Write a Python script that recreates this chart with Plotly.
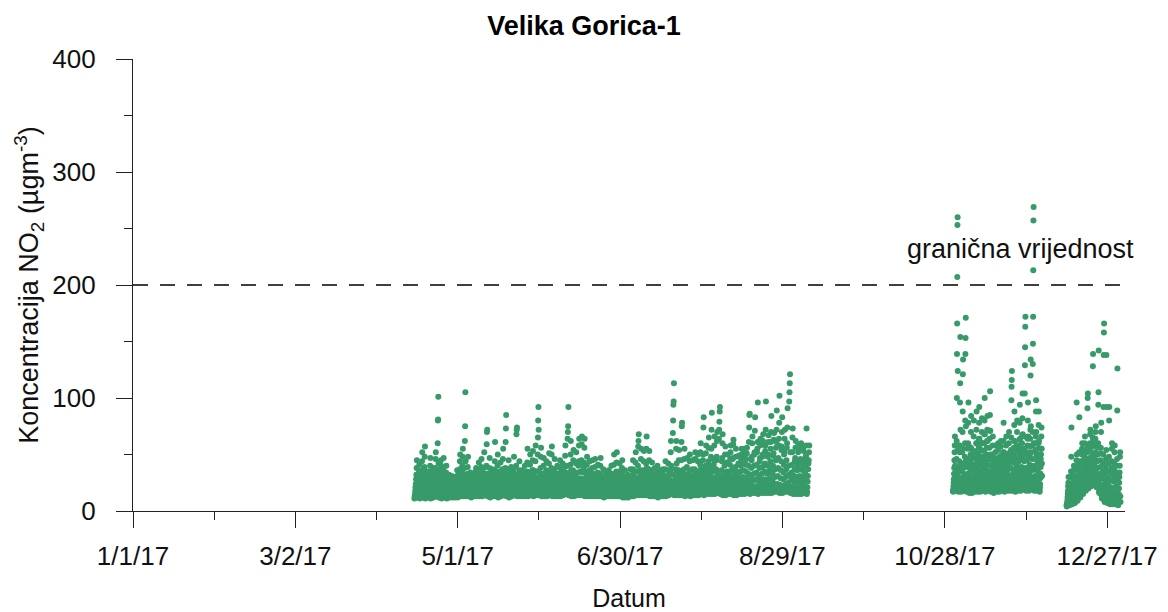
import pandas as pd
import plotly.graph_objects as go

# NO2 readings (ugm-3), one list per day
p1_start = "2017-04-15"
p1_days = [
    [11, 13, 15, 18, 21, 24, 28, 32, 38, 45], [12, 13, 16, 19, 22, 26, 30, 35, 41, 29],
    [11, 14, 16, 20, 23, 27, 31, 36, 44, 52], [12, 14, 17, 21, 25, 29, 34, 39, 48, 57],
    [11, 12, 15, 17, 20, 23, 27, 31, 35, 26], [12, 14, 16, 19, 23, 27, 31, 35, 40, 47],
    [11, 13, 15, 18, 21, 25, 29, 33, 38, 30], [12, 14, 17, 20, 24, 28, 33, 38, 46, 52],
    [13, 15, 18, 22, 26, 31, 36, 60, 80, 81, 101, 42], [12, 13, 16, 19, 23, 27, 32, 37, 45, 40],
    [11, 13, 15, 18, 22, 26, 31, 38, 47, 34], [12, 14, 16, 19, 22, 26, 30, 34, 40, 28],
    [11, 12, 14, 17, 20, 23, 26, 29, 32, 24], [12, 13, 15, 17, 20, 23, 26, 28, 31, 22],
    [12, 13, 14, 16, 19, 22, 25, 27, 30, 21], [12, 14, 16, 18, 21, 24, 28, 31, 36, 26],
    [12, 14, 16, 19, 23, 27, 32, 37, 44, 50], [13, 14, 17, 20, 24, 29, 34, 40, 48, 55],
    [13, 15, 18, 22, 27, 32, 38, 62, 75, 105, 44], [13, 14, 17, 20, 24, 28, 33, 39, 48, 31],
    [13, 14, 16, 19, 22, 25, 29, 34, 27, 21], [12, 14, 16, 18, 21, 24, 27, 31, 25, 20],
    [13, 15, 17, 20, 23, 27, 31, 35, 38, 28], [13, 14, 16, 19, 23, 27, 32, 36, 43, 29],
    [13, 15, 17, 21, 25, 29, 34, 39, 46, 32], [13, 14, 17, 20, 24, 28, 33, 38, 52, 30],
    [14, 16, 19, 23, 28, 33, 40, 59, 70, 72], [13, 15, 17, 20, 24, 28, 33, 38, 47, 31],
    [12, 14, 16, 19, 22, 26, 30, 34, 37, 27], [13, 15, 18, 21, 25, 30, 36, 44, 61, 35],
    [13, 15, 17, 21, 25, 29, 34, 40, 50, 33], [12, 14, 16, 19, 23, 27, 31, 35, 43, 29],
    [13, 15, 18, 22, 26, 31, 37, 46, 55, 36], [14, 16, 19, 23, 28, 33, 38, 61, 73, 85],
    [13, 15, 17, 20, 24, 28, 32, 37, 45, 31], [12, 14, 16, 19, 22, 26, 30, 34, 39, 27],
    [13, 15, 17, 21, 25, 29, 34, 38, 48, 32], [14, 16, 19, 23, 27, 32, 40, 68, 72, 74],
    [13, 15, 17, 20, 24, 28, 32, 36, 44, 30], [13, 14, 16, 19, 22, 26, 30, 34, 36, 26],
    [13, 15, 17, 20, 23, 27, 31, 35, 40, 28], [13, 15, 18, 21, 25, 30, 35, 43, 55, 34],
    [13, 15, 17, 21, 25, 29, 34, 41, 50, 32], [14, 16, 18, 22, 26, 31, 36, 45, 53, 36],
    [13, 15, 18, 22, 26, 30, 35, 44, 58, 35], [14, 16, 20, 24, 29, 35, 50, 65, 80, 92, 72],
    [14, 16, 19, 23, 27, 32, 38, 48, 56, 33], [13, 15, 18, 21, 25, 29, 33, 40, 47, 28],
    [13, 15, 17, 20, 24, 28, 32, 36, 44, 26], [13, 15, 18, 21, 25, 30, 34, 42, 51, 30],
    [14, 16, 19, 23, 27, 32, 38, 50, 57, 35], [13, 15, 17, 20, 24, 28, 33, 37, 46, 31],
    [13, 14, 16, 19, 23, 27, 31, 33, 40, 28], [13, 15, 17, 21, 25, 29, 33, 38, 45, 32],
    [13, 15, 17, 20, 24, 28, 32, 35, 42, 29], [14, 16, 19, 23, 28, 33, 39, 49, 58, 34],
    [15, 17, 20, 25, 30, 40, 64, 70, 75, 92], [14, 16, 19, 23, 28, 33, 41, 50, 62, 36],
    [13, 15, 18, 22, 26, 31, 36, 45, 54, 30], [13, 15, 18, 21, 25, 30, 34, 42, 52, 29],
    [14, 16, 19, 23, 28, 34, 40, 44, 58, 64], [14, 16, 19, 24, 29, 35, 42, 45, 59, 66],
    [14, 16, 19, 23, 28, 34, 38, 43, 56, 64], [13, 15, 18, 22, 26, 30, 34, 41, 48, 29],
    [13, 15, 17, 20, 24, 28, 32, 36, 44, 26], [13, 15, 17, 21, 25, 29, 33, 38, 45, 27],
    [13, 15, 18, 21, 25, 29, 33, 39, 46, 28], [13, 15, 17, 20, 23, 27, 31, 34, 41, 25],
    [13, 15, 17, 21, 25, 29, 33, 40, 47, 28], [13, 14, 16, 19, 22, 25, 29, 31, 37, 24],
    [12, 14, 15, 18, 21, 24, 27, 28, 34, 22], [13, 14, 16, 19, 22, 25, 28, 30, 36, 23],
    [13, 14, 16, 19, 22, 26, 29, 33, 40, 25], [13, 15, 17, 21, 25, 29, 33, 41, 50, 28],
    [13, 15, 18, 21, 25, 30, 35, 43, 52, 29], [13, 15, 17, 20, 24, 28, 32, 35, 42, 27],
    [13, 15, 17, 21, 25, 29, 33, 38, 45, 28], [12, 14, 16, 19, 22, 25, 28, 30, 36, 23],
    [12, 13, 15, 18, 21, 24, 27, 29, 32, 22], [12, 14, 16, 19, 22, 25, 28, 30, 37, 23],
    [13, 15, 17, 20, 24, 28, 32, 37, 45, 27], [13, 15, 18, 22, 26, 30, 35, 43, 52, 29],
    [14, 16, 19, 24, 29, 35, 40, 57, 62, 68], [14, 16, 18, 22, 26, 31, 36, 46, 55, 33],
    [14, 16, 18, 22, 26, 31, 36, 44, 53, 31], [14, 16, 19, 23, 28, 34, 42, 55, 66, 38],
    [14, 16, 18, 22, 27, 32, 37, 45, 53, 33], [13, 15, 17, 20, 24, 28, 32, 36, 43, 27],
    [13, 14, 16, 19, 22, 26, 30, 32, 38, 25], [13, 15, 17, 20, 23, 27, 30, 34, 40, 26],
    [12, 14, 16, 19, 22, 25, 28, 30, 36, 23], [13, 14, 16, 19, 22, 26, 29, 33, 37, 24],
    [13, 15, 17, 20, 24, 28, 31, 37, 44, 26], [13, 15, 17, 20, 24, 28, 31, 36, 42, 26],
    [14, 16, 18, 22, 27, 32, 36, 52, 62, 40], [15, 17, 21, 26, 32, 69, 80, 94, 97, 113],
    [14, 16, 19, 23, 28, 33, 37, 55, 62, 42], [14, 16, 18, 22, 26, 31, 36, 45, 54, 31],
    [14, 16, 19, 24, 29, 35, 45, 61, 75, 78], [14, 16, 18, 22, 27, 32, 37, 46, 55, 32],
    [13, 15, 17, 21, 25, 29, 32, 39, 47, 27], [14, 16, 18, 22, 26, 30, 35, 44, 50, 30],
    [13, 15, 17, 21, 25, 29, 31, 37, 45, 26], [14, 16, 18, 22, 27, 32, 37, 46, 52, 33],
    [14, 16, 18, 22, 26, 31, 35, 44, 50, 31], [14, 16, 19, 23, 28, 34, 41, 52, 60, 37],
    [15, 17, 20, 25, 30, 36, 45, 50, 74, 83], [14, 16, 19, 23, 28, 33, 40, 51, 58, 36],
    [15, 17, 20, 24, 29, 35, 44, 56, 65, 40], [15, 17, 21, 26, 31, 38, 48, 55, 72, 87],
    [15, 17, 20, 24, 29, 35, 41, 45, 58, 66], [15, 17, 20, 25, 30, 37, 45, 48, 62, 70],
    [16, 18, 22, 27, 33, 64, 72, 79, 88, 92], [15, 17, 20, 25, 30, 36, 44, 47, 60, 68],
    [14, 16, 19, 23, 28, 34, 40, 43, 50, 57], [14, 16, 19, 23, 27, 31, 35, 43, 50, 29],
    [15, 17, 20, 24, 29, 35, 41, 46, 52, 58], [15, 17, 21, 26, 31, 37, 46, 47, 59, 63],
    [14, 16, 19, 23, 28, 33, 39, 48, 55, 35], [14, 16, 19, 23, 27, 31, 34, 42, 49, 30],
    [15, 17, 20, 24, 29, 35, 40, 46, 50, 55], [15, 17, 20, 25, 30, 36, 42, 48, 52, 55],
    [15, 17, 20, 24, 29, 35, 41, 46, 51, 56], [16, 18, 22, 27, 33, 40, 61, 74, 85, 86],
    [15, 17, 21, 26, 31, 38, 45, 48, 60, 66], [16, 18, 22, 27, 33, 40, 50, 52, 71, 83],
    [16, 18, 22, 28, 34, 41, 52, 55, 61, 96], [15, 17, 21, 26, 31, 38, 44, 47, 58, 64],
    [16, 18, 22, 27, 33, 39, 48, 50, 62, 68], [16, 18, 23, 28, 35, 42, 53, 58, 72, 97],
    [16, 18, 22, 27, 33, 40, 48, 50, 61, 67], [16, 18, 23, 29, 36, 44, 55, 61, 70, 84],
    [16, 18, 22, 27, 33, 40, 49, 51, 63, 69], [17, 19, 24, 30, 37, 45, 56, 61, 72, 89],
    [17, 19, 24, 31, 38, 47, 58, 64, 78, 102], [16, 18, 23, 29, 36, 44, 54, 57, 70, 83],
    [16, 18, 22, 28, 34, 41, 50, 52, 64, 72], [17, 19, 24, 30, 37, 45, 56, 60, 74, 91],
    [17, 20, 25, 32, 40, 97, 105, 113, 121, 52], [16, 18, 22, 28, 34, 41, 52, 65, 73, 31],
    [15, 17, 21, 26, 31, 37, 44, 47, 56, 62], [15, 17, 20, 25, 30, 36, 40, 44, 52, 58],
    [15, 17, 21, 26, 31, 37, 43, 46, 55, 60], [15, 17, 20, 25, 30, 36, 41, 44, 53, 57],
    [16, 18, 22, 27, 33, 40, 48, 49, 58, 73], [15, 17, 21, 26, 31, 37, 42, 45, 52, 58],
]

p2_start = "2017-10-31"
p2_days = [
    [18, 17, 19, 22, 25, 28, 33, 38, 45, 52, 58, 66, 40, 30, 23],
    [20, 18, 22, 26, 31, 38, 46, 62, 100, 139, 166, 207, 253, 260, 124, 54, 35, 27],
    [19, 17, 21, 25, 30, 36, 44, 52, 58, 96, 113, 154, 72, 40, 28],
    [18, 17, 20, 24, 29, 35, 42, 52, 70, 88, 121, 134, 55, 38, 26],
    [20, 18, 22, 27, 32, 40, 48, 60, 80, 139, 153, 171, 75, 45, 30],
    [18, 17, 20, 23, 27, 33, 39, 46, 55, 60, 78, 96, 58, 42, 29],
    [18, 16, 19, 22, 26, 31, 37, 44, 50, 56, 70, 84, 55, 40, 28],
    [17, 16, 19, 22, 25, 29, 35, 41, 47, 52, 66, 80, 52, 38, 27],
    [18, 17, 20, 23, 27, 33, 39, 47, 53, 60, 72, 88, 60, 43, 30],
    [19, 17, 21, 24, 29, 36, 42, 50, 57, 64, 78, 92, 64, 46, 32],
    [18, 17, 20, 23, 28, 34, 40, 48, 54, 60, 70, 82, 60, 44, 31],
    [19, 18, 22, 25, 30, 38, 45, 53, 60, 68, 80, 100, 68, 48, 34],
    [19, 17, 21, 24, 29, 36, 42, 50, 56, 62, 72, 84, 62, 45, 32],
    [20, 18, 22, 26, 31, 40, 47, 56, 64, 71, 85, 106, 71, 50, 35],
    [18, 17, 20, 22, 26, 30, 35, 40, 45, 50, 58, 66, 48, 37, 27],
    [17, 16, 19, 21, 24, 28, 32, 37, 42, 46, 52, 58, 44, 34, 25],
    [18, 17, 20, 22, 25, 29, 33, 38, 43, 47, 54, 60, 46, 35, 26],
    [19, 17, 21, 23, 27, 31, 35, 40, 45, 49, 57, 62, 48, 37, 28],
    [19, 18, 21, 24, 28, 33, 38, 43, 48, 52, 62, 78, 52, 40, 30],
    [19, 17, 21, 23, 27, 31, 36, 41, 46, 50, 58, 66, 49, 38, 29],
    [19, 18, 21, 23, 27, 32, 37, 42, 47, 51, 60, 70, 50, 39, 29],
    [20, 18, 22, 26, 31, 38, 46, 54, 65, 98, 110, 116, 124, 48, 32],
    [19, 18, 22, 25, 30, 36, 43, 50, 56, 62, 76, 88, 62, 46, 33],
    [19, 17, 21, 24, 29, 34, 40, 47, 53, 58, 70, 80, 58, 43, 31],
    [20, 18, 22, 25, 30, 37, 44, 51, 57, 63, 78, 94, 64, 47, 34],
    [20, 18, 23, 26, 32, 39, 46, 54, 60, 67, 82, 104, 68, 49, 35],
    [21, 19, 24, 28, 34, 44, 55, 66, 104, 129, 145, 163, 172, 52, 38],
    [20, 18, 22, 26, 31, 38, 45, 52, 58, 64, 80, 96, 66, 48, 35],
    [20, 18, 23, 27, 33, 41, 49, 57, 64, 72, 120, 134, 75, 52, 37],
    [21, 19, 24, 29, 36, 46, 58, 70, 130, 148, 172, 213, 257, 269, 60, 40],
    [20, 18, 22, 26, 31, 39, 46, 54, 60, 66, 88, 98, 70, 50, 36],
    [19, 18, 21, 25, 30, 36, 43, 50, 55, 60, 76, 88, 62, 46, 33],
    [19, 17, 21, 24, 29, 33, 39, 46, 50, 55, 66, 74, 55, 42, 31],
]

p3_start = "2017-12-12"
p3_days = [
    [5, 4, 6, 7, 9, 12, 15, 18, 22, 25, 30, 14, 9, 6],
    [6, 5, 7, 9, 12, 16, 20, 24, 30, 35, 48, 74, 15, 8],
    [7, 6, 8, 10, 13, 17, 21, 26, 31, 36, 40, 28, 12, 9],
    [8, 7, 9, 12, 16, 20, 25, 31, 38, 45, 96, 50, 16, 11],
    [10, 9, 12, 15, 19, 24, 29, 35, 42, 52, 83, 44, 19, 13],
    [13, 12, 15, 18, 22, 27, 32, 38, 44, 50, 55, 60, 24, 16],
    [16, 15, 18, 21, 25, 30, 36, 42, 48, 54, 60, 66, 28, 20],
    [19, 18, 21, 24, 28, 33, 39, 45, 52, 58, 91, 100, 104, 25],
    [21, 20, 23, 26, 30, 35, 41, 47, 54, 60, 68, 72, 32, 25],
    [23, 22, 25, 28, 33, 38, 44, 50, 57, 65, 128, 139, 62, 28],
    [25, 24, 27, 30, 34, 40, 46, 52, 58, 64, 70, 75, 37, 29],
    [22, 21, 24, 28, 32, 38, 44, 50, 56, 60, 94, 105, 142, 27],
    [17, 16, 19, 23, 28, 33, 39, 45, 51, 56, 70, 78, 30, 21],
    [12, 11, 14, 18, 23, 29, 35, 42, 50, 92, 138, 158, 166, 17],
    [9, 8, 11, 15, 20, 26, 32, 38, 46, 54, 138, 92, 22, 13],
    [8, 7, 10, 13, 18, 23, 29, 35, 42, 48, 80, 92, 18, 11],
    [7, 6, 9, 12, 16, 21, 27, 33, 38, 44, 55, 60, 15, 10],
    [7, 6, 8, 11, 15, 20, 26, 31, 36, 42, 52, 58, 14, 9],
    [7, 6, 9, 12, 16, 22, 28, 34, 40, 46, 89, 126, 15, 10],
    [7, 5, 8, 11, 15, 20, 25, 30, 34, 40, 48, 52, 13, 8],
]

limit_value = 200
limit_label = "granična vrijednost"

tick_dates = ["2017-01-01", "2017-03-02", "2017-05-01", "2017-06-30",
              "2017-08-29", "2017-10-28", "2017-12-27"]
tick_labels = ["1/1/17", "3/2/17", "5/1/17", "6/30/17", "8/29/17", "10/28/17", "12/27/17"]
minor_dates = ["2017-01-31", "2017-04-01", "2017-05-31", "2017-07-30",
               "2017-09-28", "2017-11-27"]
y_major = [0, 100, 200, 300, 400]
y_minor = [50, 150, 250, 350]


def to_points(start, days):
    # spread each day's readings evenly over its 24 hours
    xs, ys = [], []
    day0 = pd.Timestamp(start)
    for i, vals in enumerate(days):
        step = 24 / len(vals)
        for j, v in enumerate(vals):
            xs.append(day0 + pd.Timedelta(days=i, hours=j * step))
            ys.append(v)
    return xs, ys


x_all, y_all = [], []
for start, days in [(p1_start, p1_days), (p2_start, p2_days), (p3_start, p3_days)]:
    xs, ys = to_points(start, days)
    x_all += xs
    y_all += ys

fig = go.Figure()
fig.add_trace(go.Scatter(
    x=x_all, y=y_all, mode="markers",
    marker=dict(size=6, color="#379b69", line=dict(width=0)),
    showlegend=False,
))

fig.add_hline(y=limit_value, line=dict(color="black", width=1.3, dash="15px,12px"))
fig.add_annotation(
    x=0.895, xref="paper", y=232, yref="y", text=limit_label,
    xanchor="center", yanchor="middle",
    showarrow=False, font=dict(size=27, color="#111"),
)

fig.update_layout(
    width=1168, height=612,
    margin=dict(l=133, r=43, t=59, b=101),
    paper_bgcolor="white", plot_bgcolor="white",
    font=dict(family="Liberation Sans, Arial, sans-serif", color="#111"),
    title=dict(text="<b>Velika Gorica-1</b>", x=0.5, xanchor="center",
               y=0.959, yanchor="middle", font=dict(size=27, color="black")),
)

axis_style = dict(
    ticks="outside", ticklen=16, tickwidth=1.2, tickcolor="#222",
    showline=True, linecolor="#222", linewidth=1.2,
    showgrid=False, zeroline=False, automargin=False,
    tickfont=dict(size=26),
)

fig.update_xaxes(
    type="date", range=["2017-01-01", "2018-01-02 14:00"],
    tickmode="array", tickvals=tick_dates, ticktext=tick_labels,
    minor=dict(tickmode="array", tickvals=minor_dates, ticks="outside",
               ticklen=8, tickwidth=1.2, tickcolor="#222"),
    ticklabelstandoff=6,
    title=dict(text="Datum", font=dict(size=25), standoff=19),
    **axis_style,
)

fig.update_yaxes(
    range=[0, 400],
    tickmode="array", tickvals=y_major,
    minor=dict(tickmode="array", tickvals=y_minor, ticks="outside",
               ticklen=8, tickwidth=1.2, tickcolor="#222"),
    ticklabelstandoff=15,
    title=dict(text="Koncentracija NO<sub>2</sub> (µgm<sup>-3</sup>)",
               font=dict(size=27), standoff=5),
    **axis_style,
)

# drop the page's default body margin so the figure sits at the window's corner
fig.write_html("out.html", config={"displayModeBar": False},
               post_script="document.body.style.margin='0';")
